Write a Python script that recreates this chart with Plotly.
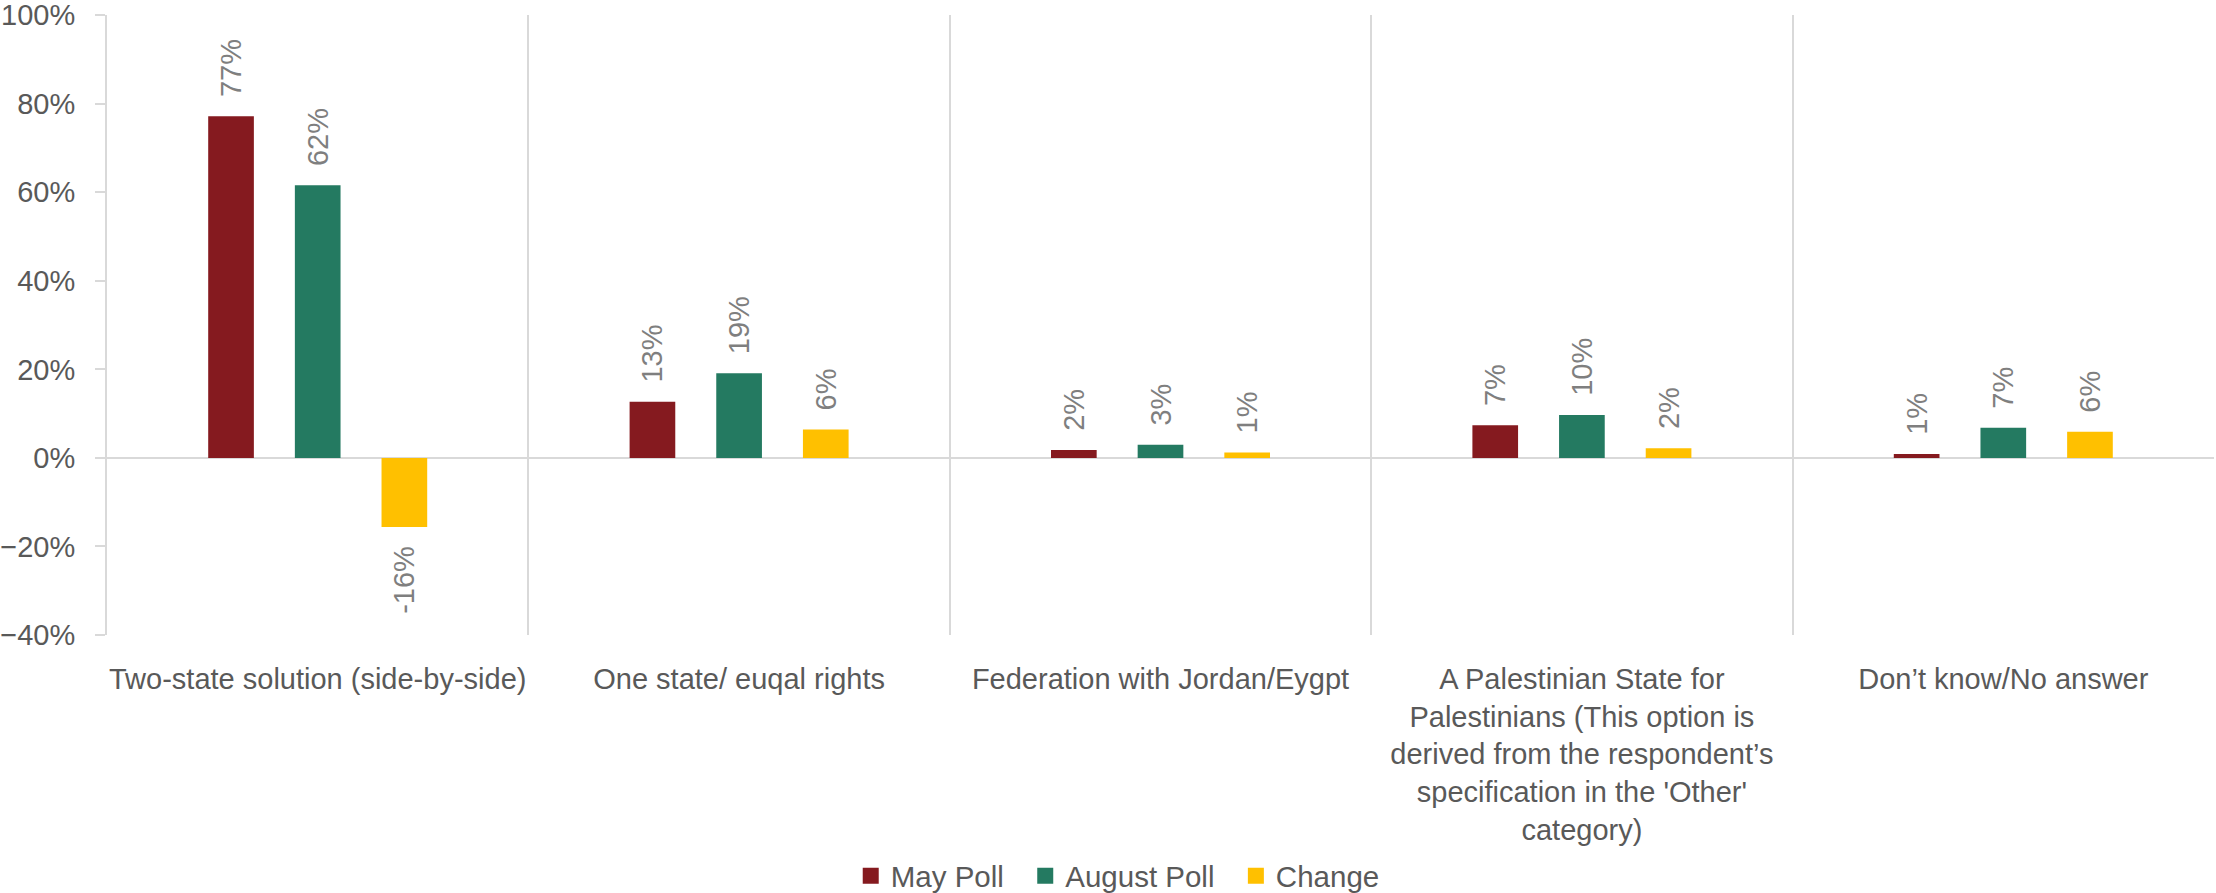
import plotly.graph_objects as go

categories = [
    "Two-state solution (side-by-side)",
    "One state/ euqal rights",
    "Federation with Jordan/Eygpt",
    "A Palestinian State for<br>Palestinians (This option is<br>derived from the respondent’s<br>specification in the 'Other'<br>category)",
    "Don’t know/No answer",
]
may_poll = [0.772, 0.127, 0.018, 0.074, 0.009]
august_poll = [0.616, 0.191, 0.030, 0.097, 0.068]
change = [-0.156, 0.064, 0.012, 0.022, 0.059]
y_ticks = [-0.4, -0.2, 0.0, 0.2, 0.4, 0.6, 0.8, 1.0]

series = [
    ("May Poll", may_poll, "#851A1F"),
    ("August Poll", august_poll, "#247A61"),
    ("Change", change, "#FFC000"),
]

FONT = "Liberation Sans, Arial"
NB = "\u00a0\u00a0"


def labels(vals):
    out = []
    for v in vals:
        s = f"{v:.0%}"
        out.append(NB + s if v >= 0 else s + NB)
    return out


fig = go.Figure()
for name, vals, color in series:
    fig.add_trace(go.Bar(
        name=name, x=categories, y=vals, showlegend=False,
        marker=dict(color=color, line=dict(width=0)),
        text=labels(vals), textposition="outside", textangle=-90,
        textfont=dict(family=FONT, size=29, color="#7F7F7F"),
        constraintext="none", cliponaxis=False,
    ))
# legend entries with larger square swatches
for name, vals, color in series:
    fig.add_trace(go.Scatter(
        name=name + NB, x=[None], y=[None], mode="markers",
        marker=dict(symbol="square", size=18, color=color),
        showlegend=True,
    ))

fig.update_layout(
    width=2216, height=893,
    paper_bgcolor="white", plot_bgcolor="white",
    margin=dict(l=107, r=2, t=15, b=258),
    barmode="group", bargap=0.383, bargroupgap=0.473,
    font=dict(family=FONT, size=29, color="#595959"),
    showlegend=True,
    legend=dict(orientation="h", xref="container", x=0.508, xanchor="center",
                yref="container", y=0.048, yanchor="top",
                font=dict(family=FONT, size=29.5, color="#595959")),
    xaxis=dict(
        type="category", tickson="boundaries", showgrid=True,
        gridcolor="#D9D9D9", gridwidth=2, showline=False, ticks="",
        tickangle=0,
        tickfont=dict(size=29, color="#595959"), ticklabelstandoff=24,
        automargin=False,
    ),
    yaxis=dict(
        range=[-0.4, 1.0005], tickvals=y_ticks, tickformat=".0%", showgrid=False,
        zeroline=True, zerolinecolor="#D9D9D9", zerolinewidth=2,
        showline=True, linecolor="#D9D9D9", linewidth=2,
        ticks="outside", ticklen=10, tickcolor="#D9D9D9", tickwidth=2,
        tickfont=dict(size=29, color="#595959"), ticklabelstandoff=14,
        ticklabeloverflow="allow", automargin=False,
    ),
)

fig.write_html("out.html", config={"displayModeBar": False},
               post_script="document.body.style.margin='0';")
